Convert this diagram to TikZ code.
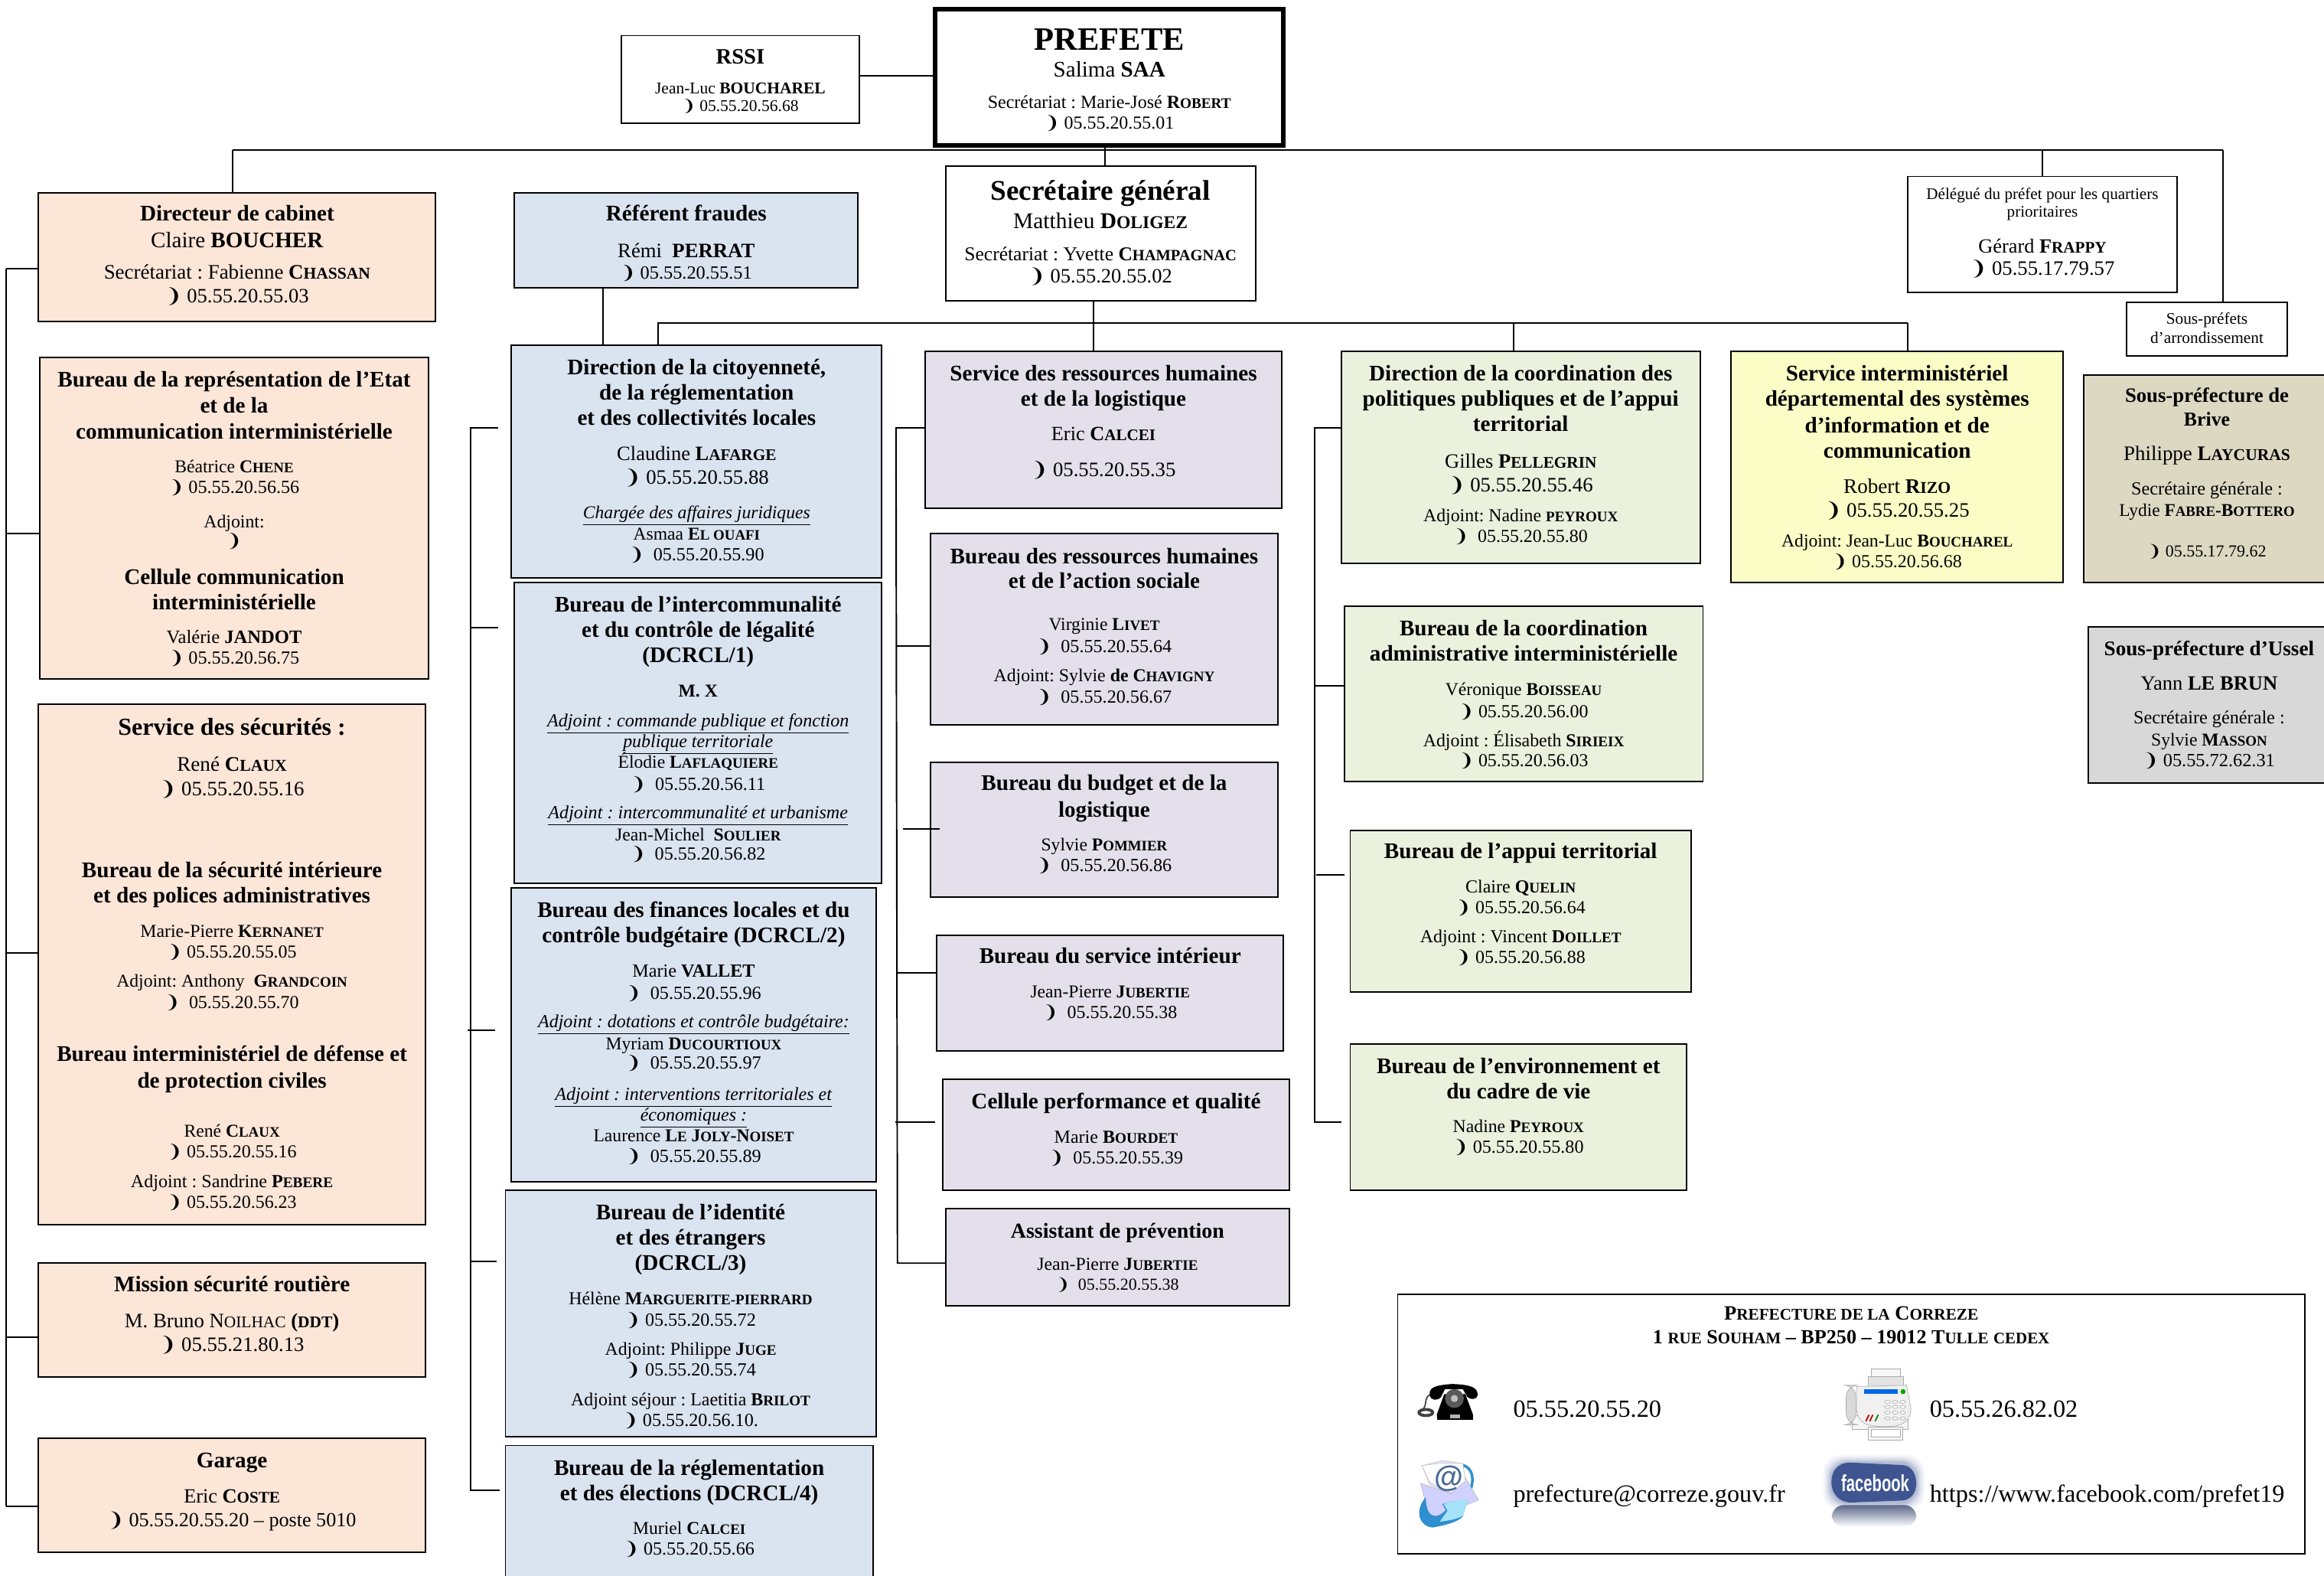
\documentclass[tikz,border=0pt]{standalone}
\usepackage{fontspec}
\setmainfont{Liberation Serif}
\newfontfamily\djv{DejaVu Sans}
\newfontfamily\lsans{Liberation Sans}
\usetikzlibrary{shadings}
\definecolor{peach}{HTML}{FBE6D8}
\definecolor{bluec}{HTML}{DAE3F0}
\definecolor{purp}{HTML}{E3DFEB}
\definecolor{greenc}{HTML}{EAF1DD}
\definecolor{yell}{HTML}{FAFDC6}
\definecolor{tanc}{HTML}{DCD8C2}
\definecolor{greyc}{HTML}{D8D8D8}
\definecolor{fbblue}{HTML}{3F5591}
\definecolor{atblue}{HTML}{4A6A96}
\definecolor{arcblue}{HTML}{2F8FD0}
\tikzset{
  orgbox/.style={draw=black,line width=1pt,inner sep=0pt,outer sep=0pt,rectangle},
  conn/.style={draw=black,line width=1pt},
  freetext/.style={inner sep=0pt,outer sep=0pt,anchor=base west,font=\fontsize{16.65}{16.65}\selectfont},
  iconscale/.style={x=0.172pt,y=-0.172pt}
}
\newcommand\bl[3]{\nointerlineskip\vbox to 0pt{\vskip\dimexpr #1pt-\bt pt\relax\hbox to \hsize{\hss\smash{\frenchspacing\fontsize{#2}{#2}\selectfont #3}\hss}\vss}}
\newcommand\hd[2]{\bl{#1}{15.05}{\textbf{#2}}}
\newcommand\sca[2]{\textbf{#1\scalebox{.8}{#2}}}
\makeatletter
\newcommand\tel{{\djv\char"2769}\@tempdima=\f@size pt\relax\@tempdima=1.03\@tempdima\fontsize{\strip@pt\@tempdima}{\strip@pt\@tempdima}\selectfont}
\makeatother
\newcommand\obox[7]{%
  \pgfmathsetmacro\bw{#4-#2}\pgfmathsetmacro\bh{#5-#3}\def\bt{#3}%
  \node[orgbox,#6,minimum width=\bw pt,minimum height=\bh pt] (#1) at ({(#2+#4)/2},{(#3+#5)/2}) {\vbox to \bh pt{\hsize=\bw pt #7\vss}};%
}
\begin{document}
\begin{tikzpicture}[x=1pt,y=-1pt]
\useasboundingbox (0,0) rectangle (1568,1063);
\clip (0,0) rectangle (1568,1063);
% ---- top
\obox{prefete}{631}{6}{866}{98}{line width=3pt}{
 \bl{34}{22}{\textbf{PREFETE}}
 \bl{52}{15}{Salima \textbf{SAA}}
 \bl{73}{12.4}{Secrétariat : Marie-José \sca{R}{OBERT}}
 \bl{87}{12}{\tel\ 05.55.20.55.01}}
\obox{rssi}{419}{24}{580}{83}{}{
 \bl{43}{14.8}{\textbf{RSSI}}
 \bl{63}{11.1}{Jean-Luc \textbf{BOUCHAREL}}
 \bl{75}{10.8}{\tel\ 05.55.20.56.68}}
\obox{sg}{638}{112}{847}{203}{}{
 \bl{135}{19.2}{\textbf{Secrétaire général}}
 \bl{154}{15.2}{Matthieu \sca{D}{OLIGEZ}}
 \bl{176}{13.2}{Secrétariat : Yvette \sca{C}{HAMPAGNAC}}
 \bl{191}{13.3}{\tel\ 05.55.20.55.02}}
\obox{fraudes}{347}{130}{579}{194}{fill=bluec}{
 \bl{149}{15.1}{\textbf{Référent fraudes}}
 \bl{173.5}{13.8}{Rémi\ \ \textbf{PERRAT}}
 \bl{188}{12.2}{\tel\ 05.55.20.55.51}}
\obox{delegue}{1287}{119}{1469}{197}{}{
 \bl{134.5}{10.9}{Délégué du préfet pour les quartiers}
 \bl{146.5}{10.9}{prioritaires}
 \bl{170.5}{13.6}{Gérard \sca{F}{RAPPY}}
 \bl{185.5}{13.4}{\tel\ 05.55.17.79.57}}
\obox{souspref}{1435}{204}{1543}{240}{}{
 \bl{218.5}{11}{Sous-préfets}
 \bl{231.5}{11}{d’arrondissement}}
% ---- left column
\obox{cabinet}{26}{130}{294}{217}{fill=peach}{
 \hd{149}{Directeur de cabinet}
 \bl{167}{15}{Claire \textbf{BOUCHER}}
 \bl{188}{13.9}{Secrétariat : Fabienne \sca{C}{HASSAN}}
 \bl{204}{13.3}{\tel\ 05.55.20.55.03}}
\obox{repres}{27}{241}{289}{458}{fill=peach}{
 \hd{261}{Bureau de la représentation de l’Etat}
 \hd{278.5}{et de la}
 \hd{296}{communication interministérielle}
 \bl{319}{12.2}{Béatrice \sca{C}{HENE}}
 \bl{333}{12.1}{\tel\ 05.55.20.56.56}
 \bl{356}{12.3}{Adjoint:}
 \bl{369}{12.1}{\tel}
 \hd{394}{Cellule communication}
 \hd{411}{interministérielle}
 \bl{434}{12.7}{Valérie \textbf{JANDOT}}
 \bl{448}{12.1}{\tel\ 05.55.20.56.75}}
\obox{securites}{26}{475}{287}{826}{fill=peach}{
 \bl{496}{16.5}{\textbf{Service des sécurités :}}
 \bl{520}{14}{René \sca{C}{LAUX}}
 \bl{536.5}{13.4}{\tel\ 05.55.20.55.16}
 \hd{592}{Bureau de la sécurité intérieure}
 \hd{609}{et des polices administratives}
 \bl{632}{12.3}{Marie-Pierre \sca{K}{ERNANET}}
 \bl{646}{12}{\tel\ 05.55.20.55.05}
 \bl{666}{12.2}{Adjoint: Anthony\ \ \sca{G}{RANDCOIN}}
 \bl{680}{12}{\tel\ \ 05.55.20.55.70}
 \hd{716}{Bureau interministériel de défense et}
 \hd{734}{de protection civiles}
 \bl{767}{12.2}{René \sca{C}{LAUX}}
 \bl{781}{12}{\tel\ 05.55.20.55.16}
 \bl{801}{12.45}{Adjoint : Sandrine \sca{P}{EBERE}}
 \bl{815}{12}{\tel\ 05.55.20.56.23}}
\obox{mission}{26}{852}{287}{929}{fill=peach}{
 \hd{871}{Mission sécurité routière}
 \bl{895.5}{13.8}{M. Bruno N{\scalebox{.8}{OILHAC}} \sca{(}{DDT}\textbf{)}}
 \bl{911.5}{13.4}{\tel\ 05.55.21.80.13}}
\obox{garage}{26}{970}{287}{1047}{fill=peach}{
 \hd{990}{Garage}
 \bl{1013.5}{13.6}{Eric \sca{C}{OSTE}}
 \bl{1029.5}{13.1}{\tel\ 05.55.20.55.20 – poste 5010}}
% ---- blue column
\obox{citoyen}{345}{233}{595}{390}{fill=bluec}{
 \hd{252.5}{Direction de la citoyenneté,}
 \hd{270}{de la réglementation}
 \hd{287}{et des collectivités locales}
 \bl{310.5}{13.7}{Claudine \sca{L}{AFARGE}}
 \bl{326.5}{13.4}{\tel\ 05.55.20.55.88}
 \bl{350}{12.2}{\underline{\textit{Chargée des affaires juridiques}}}
 \bl{364}{12.2}{Asmaa \sca{E}{L OUAFI}}
 \bl{378}{12.1}{\tel\ \ 05.55.20.55.90}}
\obox{interco}{347}{393}{595}{596}{fill=bluec}{
 \hd{413}{Bureau de l’intercommunalité}
 \hd{430}{et du contrôle de légalité}
 \hd{447}{(DCRCL/1)}
 \bl{470}{12.2}{\textbf{M. X}}
 \bl{490}{12.45}{\underline{\textit{Adjoint : commande publique et fonction}}}
 \bl{504}{12.35}{\underline{\textit{publique territoriale}}}
 \bl{518}{12.2}{Élodie \sca{L}{AFLAQUIERE}}
 \bl{533}{12.1}{\tel\ \ 05.55.20.56.11}
 \bl{552}{12.45}{\underline{\textit{Adjoint : intercommunalité et urbanisme}}}
 \bl{567}{12.2}{Jean-Michel\ \ \sca{S}{OULIER}}
 \bl{580}{12.1}{\tel\ \ 05.55.20.56.82}}
\obox{finances}{345}{599}{591}{797}{fill=bluec}{
 \hd{619}{Bureau des finances locales et du}
 \hd{636}{contrôle budgétaire (DCRCL/2)}
 \bl{659}{12.5}{Marie \textbf{VALLET}}
 \bl{674}{12.1}{\tel\ \ 05.55.20.55.96}
 \bl{693}{12.4}{\underline{\textit{Adjoint : dotations et contrôle budgétaire:}}}
 \bl{708}{12.2}{Myriam \sca{D}{UCOURTIOUX}}
 \bl{721}{12.1}{\tel\ \ 05.55.20.55.97}
 \bl{742}{12.4}{\underline{\textit{Adjoint : interventions territoriales et}}}
 \bl{756}{12.4}{\underline{\textit{économiques :}}}
 \bl{770}{12.2}{Laurence \sca{L}{E} \sca{J}{OLY}\textbf{-}\sca{N}{OISET}}
 \bl{784}{12.1}{\tel\ \ 05.55.20.55.89}}
\obox{identite}{341}{803}{591}{969}{fill=bluec}{
 \hd{822.5}{Bureau de l’identité}
 \hd{840}{et des étrangers}
 \hd{857}{(DCRCL/3)}
 \bl{880}{12.3}{Hélène \sca{M}{ARGUERITE-PIERRARD}}
 \bl{894.5}{12.1}{\tel\ 05.55.20.55.72}
 \bl{914}{12.3}{Adjoint: Philippe \sca{J}{UGE}}
 \bl{928}{12.1}{\tel\ 05.55.20.55.74}
 \bl{948}{12.35}{Adjoint séjour : Laetitia \sca{B}{RILOT}}
 \bl{962}{12.1}{\tel\ 05.55.20.56.10.}}
\obox{reglement}{341}{975}{589}{1080}{fill=bluec}{
 \hd{995}{Bureau de la réglementation}
 \hd{1012}{et des élections (DCRCL/4)}
 \bl{1035}{12.2}{Muriel \sca{C}{ALCEI}}
 \bl{1049}{12.1}{\tel\ 05.55.20.55.66}}
% ---- purple column
\obox{rh}{624}{237}{865}{343}{fill=purp}{
 \hd{257}{Service des ressources humaines}
 \hd{274}{et de la logistique}
 \bl{297}{13.6}{Eric \sca{C}{ALCEI}}
 \bl{321.5}{13.4}{\tel\ 05.55.20.55.35}}
\obox{burh}{628}{360}{862}{489}{fill=purp}{
 \hd{380}{Bureau des ressources humaines}
 \hd{397}{et de l’action sociale}
 \bl{425}{12.2}{Virginie \sca{L}{IVET}}
 \bl{440}{12.1}{\tel\ \ 05.55.20.55.64}
 \bl{460}{12.3}{Adjoint: Sylvie \textbf{de} \sca{C}{HAVIGNY}}
 \bl{474}{12.1}{\tel\ \ 05.55.20.56.67}}
\obox{budget}{628}{514}{862}{605}{fill=purp}{
 \hd{533}{Bureau du budget et de la}
 \hd{551}{logistique}
 \bl{574}{12.2}{Sylvie \sca{P}{OMMIER}}
 \bl{588}{12.1}{\tel\ \ 05.55.20.56.86}}
\obox{interieur}{632}{631}{866}{709}{fill=purp}{
 \hd{650}{Bureau du service intérieur}
 \bl{673}{12.2}{Jean-Pierre \sca{J}{UBERTIE}}
 \bl{687}{12}{\tel\ \ 05.55.20.55.38}}
\obox{cellule}{636}{728}{870}{803}{fill=purp}{
 \hd{748}{Cellule performance et qualité}
 \bl{771}{12.4}{Marie \sca{B}{OURDET}}
 \bl{785}{12}{\tel\ \ 05.55.20.55.39}}
\obox{assistant}{638}{815}{870}{881}{fill=purp}{
 \bl{835}{14.4}{\textbf{Assistant de prévention}}
 \bl{857}{12.3}{Jean-Pierre \sca{J}{UBERTIE}}
 \bl{870}{11}{\tel\ \ 05.55.20.55.38}}
% ---- green column
\obox{coord}{905}{237}{1147}{380}{fill=greenc}{
 \hd{257}{Direction de la coordination des}
 \hd{274}{politiques publiques et de l’appui}
 \hd{291}{territorial}
 \bl{315.5}{13.7}{Gilles \sca{P}{ELLEGRIN}}
 \bl{331.5}{13.4}{\tel\ 05.55.20.55.46}
 \bl{352}{12.3}{Adjoint: Nadine \sca{}{PEYROUX}}
 \bl{366}{12}{\tel\ \ 05.55.20.55.80}}
\obox{bucoord}{907}{409}{1149}{527}{fill=greenc}{
 \hd{429}{Bureau de la coordination}
 \hd{446}{administrative interministérielle}
 \bl{469}{12.2}{Véronique \sca{B}{OISSEAU}}
 \bl{484}{12}{\tel\ 05.55.20.56.00}
 \bl{503.5}{12.35}{Adjoint : Élisabeth \sca{S}{IRIEIX}}
 \bl{517}{12}{\tel\ 05.55.20.56.03}}
\obox{appui}{911}{560}{1141}{669}{fill=greenc}{
 \hd{579}{Bureau de l’appui territorial}
 \bl{602}{12.4}{Claire \sca{Q}{UELIN}}
 \bl{616}{12}{\tel\ 05.55.20.56.64}
 \bl{636}{12.35}{Adjoint : Vincent \sca{D}{OILLET}}
 \bl{650}{12}{\tel\ 05.55.20.56.88}}
\obox{environ}{911}{704}{1138}{803}{fill=greenc}{
 \hd{724}{Bureau de l’environnement et}
 \hd{741}{du cadre de vie}
 \bl{764}{12.25}{Nadine \sca{P}{EYROUX}}
 \bl{778}{12.1}{\tel\ 05.55.20.55.80}}
% ---- yellow, sub-prefectures
\obox{sidsic}{1168}{237}{1392}{393}{fill=yell}{
 \hd{257}{Service interministériel}
 \hd{274}{départemental des systèmes}
 \hd{292}{d’information et de}
 \hd{309}{communication}
 \bl{332.5}{14}{Robert \sca{R}{IZO}}
 \bl{348.5}{13.4}{\tel\ 05.55.20.55.25}
 \bl{369}{12.2}{Adjoint: Jean-Luc \sca{B}{OUCHAREL}}
 \bl{383}{12}{\tel\ 05.55.20.56.68}}
\obox{brive}{1406}{253}{1572}{393}{fill=tanc}{
 \bl{271.5}{13.8}{\textbf{Sous-préfecture de}}
 \bl{287.5}{13.3}{\textbf{Brive}}
 \bl{310.5}{13.9}{Philippe \sca{L}{AYCURAS}}
 \bl{334}{12.5}{Secrétaire générale :}
 \bl{348}{12.1}{Lydie \sca{F}{ABRE}\textbf{-}\sca{B}{OTTERO}}
 \bl{375.5}{11}{\tel\ 05.55.17.79.62}}
\obox{ussel}{1409}{423}{1572}{528}{fill=greyc}{
 \bl{442}{14}{\textbf{Sous-préfecture d’Ussel}}
 \bl{465.5}{13.7}{Yann \textbf{LE BRUN}}
 \bl{488}{12.5}{Secrétaire générale :}
 \bl{503}{12.2}{Sylvie \sca{M}{ASSON}}
 \bl{517}{12.2}{\tel\ 05.55.72.62.31}}
% ---- contact box
\obox{contact}{943}{873}{1555}{1048}{}{
 \bl{890.5}{13.7}{\sca{P}{REFECTURE DE LA} \sca{C}{ORREZE}}
 \bl{906.5}{13.5}{\textbf{1} \sca{}{RUE} \sca{S}{OUHAM} \textbf{– BP250 – 19012} \sca{T}{ULLE} \sca{}{CEDEX}}}
\node[freetext] (telnum) at (1021,956) {05.55.20.55.20};
\node[freetext] (faxnum) at (1302,956) {05.55.26.82.02};
\node[freetext] (mail) at (1021,1013) {prefecture@correze.gouv.fr};
\node[freetext] (fburl) at (1302,1013) {https://www.facebook.com/prefet19};
% ---- connectors
\coordinate (busL) at (157,101);
\coordinate (busR) at (1500,101);
\coordinate (trunk) at (745.6,101);
\coordinate (rssiy) at (600,51);
\coordinate (delx) at (1378,101);
\draw[conn] (rssi.east |- rssiy) -- (prefete.west |- rssiy);
\draw[conn] (busL) -- (busR);
\draw[conn] (prefete.south -| trunk) -- (sg.north -| trunk);
\draw[conn] (busL) -- (busL |- cabinet.north);
\draw[conn] (delx) -- (delx |- delegue.north);
\draw[conn] (busR) -- (busR |- souspref.north);
\coordinate (sgx) at (738,218);
\coordinate (busAL) at (444,218);
\coordinate (busAM) at (1021,218);
\coordinate (busAR) at (1287,218);
\coordinate (frx) at (407,200);
\draw[conn] (sgx |- sg.south) -- (sgx |- rh.north);
\draw[conn] (busAR) -- (busAL) -- (busAL |- citoyen.north);
\draw[conn] (busAM) -- (busAM |- coord.north);
\draw[conn] (busAR) -- (busAR |- sidsic.north);
\draw[conn] (frx |- fraudes.south) -- (frx |- citoyen.north);
% left spine
\coordinate (a1) at (4,181);\coordinate (a2) at (4,360);\coordinate (a3) at (4,643);\coordinate (a4) at (4,902);\coordinate (a5) at (4,1016);
\draw[conn] (a1) -- (a5);
\draw[conn] (a1) -- (cabinet.west |- a1);
\draw[conn] (a2) -- (repres.west |- a2);
\draw[conn] (a3) -- (securites.west |- a3);
\draw[conn] (a4) -- (mission.west |- a4);
\draw[conn] (a5) -- (garage.west |- a5);
% blue spine
\coordinate (b1) at (317.5,288.6);\coordinate (b2) at (317.5,423.4);\coordinate (b3) at (315.6,695);\coordinate (b3e) at (334,695);\coordinate (b4) at (317.5,851);\coordinate (b4e) at (335,851);\coordinate (b5) at (317.5,1005);\coordinate (b5e) at (337,1005);\coordinate (b1e) at (336,288.6);\coordinate (b2e) at (336,423.4);
\draw[conn] (b1e) -- (b1) -- (b5) -- (b5e);
\draw[conn] (b2) -- (b2e);
\draw[conn] (b3) -- (b3e);
\draw[conn] (b4) -- (b4e);
% purple spine
\coordinate (c1) at (604.5,288.6);\coordinate (c2) at (604.5,435.8);\coordinate (c3) at (609,559);\coordinate (c3e) at (634,559);\coordinate (c4) at (605,656);\coordinate (c5) at (604,757);\coordinate (c5e) at (631,757);\coordinate (c6) at (605.5,852);
\draw[conn] (rh.west |- c1) -- (c1) -- (c6) -- (assistant.west |- c6);
\draw[conn] (c2) -- (burh.west |- c2);
\draw[conn] (c3) -- (c3e);
\draw[conn] (c4) -- (interieur.west |- c4);
\draw[conn] (c5) -- (c5e);
% green spine
\coordinate (d1) at (887,288.6);\coordinate (d2) at (887,462.6);\coordinate (d3) at (888,590);\coordinate (d3e) at (907,590);\coordinate (d4) at (887,757);\coordinate (d4e) at (905,757);
\draw[conn] (coord.west |- d1) -- (d1) -- (d4) -- (d4e);
\draw[conn] (d2) -- (bucoord.west |- d2);
\draw[conn] (d3) -- (d3e);
% ---- icons (drawn in crop units)
% telephone
\begin{scope}[shift={(944.8,918.9)},iconscale]
\draw[black!75,line width=.9pt] (135,125) .. controls (85,125) and (110,165) .. (88,185);
\draw[black!75,line width=2pt] (100,197) ellipse (27 and 12);
\fill[black] (145,225) -- (143,205) -- (172,125) -- (255,125) -- (285,205) -- (285,225) -- cycle;
\fill[black] (115,130) .. controls (112,100) and (130,90) .. (205,85) .. controls (280,88) and (305,100) .. (303,130) .. controls (302,145) and (275,150) .. (262,135) -- (245,105) -- (175,105) -- (160,135) .. controls (145,155) and (118,148) .. (115,130) -- cycle;
\fill[black!65] (212,142) circle (37);
\fill[black!25] (212,142) circle (14);
\fill[black!30] (195,205) rectangle (235,220);
\end{scope}
% mail
\begin{scope}[shift={(944.8,918.9)},iconscale]
\draw[arcblue,line width=1.8pt] (245,403) .. controls (285,415) and (290,460) .. (275,500);
\fill[white!90!blue,draw=black!25,line width=.3pt] (85,405) -- (165,385) -- (245,397) -- (258,490) -- (200,515) -- (115,480) -- cycle;
\fill[white!82!blue,draw=black!30,line width=.3pt] (80,475) -- (200,515) -- (250,445) -- (307,540) -- (180,590) -- (115,615) -- cycle;
\fill[white,draw=black!25,line width=.3pt] (85,405) -- (165,395) -- (245,397) -- (255,465) -- (200,512) -- (115,470) -- cycle;
\node[inner sep=0pt,text=atblue] (atsign) at (190,455) {\fontsize{20}{20}\selectfont\lsans\textbf{@}};
\fill[arcblue] (100,530) .. controls (60,570) and (65,640) .. (125,648) .. controls (170,640) and (220,630) .. (245,605) -- (265,535) -- (165,555) -- (178,580) .. controls (140,620) and (100,610) .. (100,530) -- cycle;
\fill[cyan!35!white] (265,533) -- (170,555) -- (185,582) -- (155,625) .. controls (200,620) and (235,610) .. (248,600) -- cycle;
\end{scope}
% fax
\begin{scope}[shift={(1233.9,918.9)},iconscale]
\fill[gray!6,draw=gray!65,line width=.4pt] (165,25) rectangle (280,90);
\fill[gray!22,draw=gray!65,line width=.4pt] (155,55) rectangle (293,95);
\fill[gray!8,draw=gray!65,line width=.4pt] (90,210) rectangle (310,262);
\fill[gray!6,draw=gray!65,line width=.4pt] (155,255) rectangle (290,305);
\fill[white,draw=gray!65,line width=.4pt] (165,262) rectangle (280,292);
\fill[gray!30,draw=gray!65,line width=.4pt,rounded corners=8pt] (68,90) rectangle (106,245);
\fill[gray!12,draw=gray!60,line width=.4pt] (108,95) -- (305,90) -- (322,180) .. controls (320,240) and (280,252) .. (220,252) .. controls (150,252) and (112,240) .. (108,180) -- cycle;
\fill[blue!55!cyan!90!black] (137,105) rectangle (270,125);
\fill[green!65!black] (291,115) circle (10);
\foreach \i in {230,260,290}{\foreach \j in {155,175,197,220}{\draw[gray!60,fill=white,line width=.4pt] (\i,\j) ellipse (11 and 6);}}
\foreach \i/\c in {150/red!75!black,165/red!75!black,186/green!55!black}{\fill[\c] ({\i+5},205) -- ({\i+10},207) -- ({\i-2},232) -- ({\i-7},230) -- cycle;}
\end{scope}
% facebook
\begin{scope}[shift={(1233.9,918.9)},iconscale]
\foreach \g/\o in {32/.05,25/.07,18/.09,12/.12,6/.15}{
  \fill[fbblue,opacity=\o,rounded corners=12pt] ({10-\g},{395-\g}) rectangle ({343+\g},{550+\g});}
\shade[top color=fbblue!55!gray,bottom color=white,rounded corners=8pt] (12,560) rectangle (343,645);
\fill[fbblue] (80,393) -- (290,403) .. controls (325,405) and (343,440) .. (343,475) .. controls (343,515) and (320,538) .. (290,542) -- (85,550) .. controls (35,548) and (10,510) .. (10,470) .. controls (10,425) and (35,395) .. (80,393) -- cycle;
\node[inner sep=0pt,text=white] (fblogo) at (182,473) {\fontsize{15.6}{15.6}\selectfont\lsans\textbf{\scalebox{.67}[1]{facebook}}};
\end{scope}
\end{tikzpicture}
\end{document}
